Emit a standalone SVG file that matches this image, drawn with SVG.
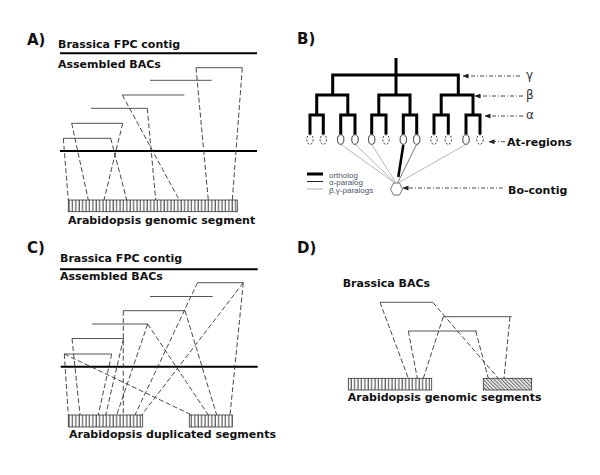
<svg xmlns="http://www.w3.org/2000/svg" width="600" height="475" viewBox="0 0 600 475">
<style>
.pl{font-family:"DejaVu Sans","Liberation Sans",sans-serif;font-weight:bold;font-size:15px;fill:#111}
.lb{font-family:"DejaVu Sans","Liberation Sans",sans-serif;font-weight:bold;font-size:11px;fill:#111}
.gk{font-family:"DejaVu Sans","Liberation Sans",sans-serif;font-size:12px;fill:#333}
.lg{font-family:"Liberation Sans","DejaVu Sans",sans-serif;font-size:8px;fill:#4a5568}
.thick{stroke:#000;stroke-width:2;fill:none}
.bac{stroke:#555;stroke-width:1;fill:none}
.dash{stroke:#333;stroke-width:0.9;stroke-dasharray:5,2.5;fill:none}
.tree{stroke:#000;stroke-width:3;fill:none;stroke-linejoin:miter}
.ov{fill:#fff;stroke:#222;stroke-width:0.9}
.ovd{fill:#fff;stroke:#222;stroke-width:0.9;stroke-dasharray:2,1.5}
.ptr{stroke:#333;stroke-width:0.9;stroke-dasharray:4,2,1,2;fill:none;marker-end:url(#ah)}
.seg{stroke:#333;stroke-width:0.8}
</style>
<defs>
<pattern id="vh" width="3.4" height="20" patternUnits="userSpaceOnUse">
<rect width="3.4" height="20" fill="#fff"/>
<line x1="1" y1="0" x2="1" y2="20" stroke="#222" stroke-width="0.9"/>
</pattern>
<pattern id="dh" width="2.6" height="2.6" patternUnits="userSpaceOnUse" patternTransform="rotate(-45)">
<rect width="2.6" height="2.6" fill="#eee"/>
<line x1="0.6" y1="0" x2="0.6" y2="2.6" stroke="#444" stroke-width="0.8"/>
</pattern>
<marker id="ah" markerWidth="6" markerHeight="5" refX="5.5" refY="2.5" orient="auto" markerUnits="userSpaceOnUse">
<path d="M0,0 L6,2.5 L0,5 Z" fill="#222"/>
</marker>
</defs>
<rect width="600" height="475" fill="#fff"/>

<!-- Panel A -->
<g id="panelA">
<text class="pl" x="27" y="45">A)</text>
<g id="A-contig"><text class="lb" x="58" y="48">Brassica FPC contig</text><line class="thick" x1="60" y1="53.3" x2="257" y2="53.3"/></g>
<g id="A-bacs"><text class="lb" x="58" y="68">Assembled BACs</text>
<line class="bac" x1="196" y1="67.7" x2="242.3" y2="67.7"/>
<line class="bac" x1="150" y1="80.3" x2="211.7" y2="80.3"/>
<line class="bac" x1="122.3" y1="95" x2="184.3" y2="95"/>
<line class="bac" x1="91" y1="108.3" x2="147.3" y2="108.3"/>
<line class="bac" x1="71.7" y1="123.3" x2="122.7" y2="123.3"/>
<line class="bac" x1="63.3" y1="138.3" x2="110.7" y2="138.3"/>
</g>
<g id="A-line"><line class="thick" x1="60" y1="151" x2="257" y2="151"/></g>
<g id="A-segment"><rect class="seg" x="68.3" y="200" width="169" height="11.7" fill="url(#vh)"/>
<text class="lb" x="68" y="224">Arabidopsis genomic segment</text></g>
</g>

<!-- Panel B -->
<g id="panelB">
<text class="pl" x="297" y="44">B)</text>
<g id="B-tree">
<path class="tree" d="M396,58 V95 M332.7,95 V75 H458.3 V95 M316.7,115 V95 H347.8 V115 M378.8,115 V95 H410 V115 M441.2,115 V95 H473 V115 M310,134.5 V115 H323.3 V134.5 M340.7,134.5 V115 H355 V134.5 M371.7,134.5 V115 H386 V134.5 M403.3,134.5 V115 H416.7 V134.5 M434,134.5 V115 H448.3 V134.5 M466,134.5 V115 H480 V134.5"/>
</g>
<g id="At-regions">
<ellipse class="ovd" cx="310" cy="139.5" rx="3.2" ry="4.8"/>
<ellipse class="ovd" cx="323.3" cy="139.5" rx="3.2" ry="4.8"/>
<ellipse class="ov" cx="340.7" cy="139.5" rx="3.2" ry="4.8"/>
<ellipse class="ov" cx="355" cy="139.5" rx="3.2" ry="4.8"/>
<ellipse class="ov" cx="371.7" cy="139.5" rx="3.2" ry="4.8"/>
<ellipse class="ovd" cx="386" cy="139.5" rx="3.2" ry="4.8"/>
<ellipse class="ov" cx="403.3" cy="139.5" rx="3.2" ry="4.8"/>
<ellipse class="ov" cx="416.7" cy="139.5" rx="3.2" ry="4.8"/>
<ellipse class="ovd" cx="434" cy="139.5" rx="3.2" ry="4.8"/>
<ellipse class="ovd" cx="448.3" cy="139.5" rx="3.2" ry="4.8"/>
<ellipse class="ov" cx="466" cy="139.5" rx="3.2" ry="4.8"/>
<ellipse class="ovd" cx="480" cy="139.5" rx="3.2" ry="4.8"/>
</g>
<g id="Bo-contig"><path d="M390.5,189 L393.5,183 L399.5,183 L402.5,189 L399.5,195 L393.5,195 Z" fill="#fff" stroke="#666" stroke-width="0.9"/></g>
<g id="B-legend">
<line x1="307" y1="174" x2="323" y2="174" stroke="#000" stroke-width="3"/>
<line x1="307" y1="181.5" x2="323" y2="181.5" stroke="#222" stroke-width="1"/>
<line x1="307" y1="189" x2="323" y2="189" stroke="#777" stroke-width="0.6"/>
<text class="lg" x="329" y="177.5">ortholog</text>
<text class="lg" x="329" y="185">α-paralog</text>
<text class="lg" x="329" y="193">β,γ-paralogs</text>
</g>
<g id="B-labels">
<text class="gk" x="526" y="79">γ</text>
<text class="gk" x="526" y="99">β</text>
<text class="gk" x="526" y="119">α</text>
<text class="lb" x="507" y="146">At-regions</text>
<text class="lb" x="508" y="194">Bo-contig</text>
</g>
</g>

<!-- Panel C -->
<g id="panelC">
<text class="pl" x="27" y="253">C)</text>
<g id="C-contig"><text class="lb" x="60" y="261.5">Brassica FPC contig</text><line class="thick" x1="60" y1="269.3" x2="257.7" y2="269.3"/></g>
<g id="C-bacs"><text class="lb" x="60" y="280">Assembled BACs</text>
<line class="bac" x1="197.5" y1="282.7" x2="243.3" y2="282.7"/>
<line class="bac" x1="150" y1="296.5" x2="212.7" y2="296.5"/>
<line class="bac" x1="123.3" y1="310.7" x2="185" y2="310.7"/>
<line class="bac" x1="92" y1="324" x2="147.7" y2="324"/>
<line class="bac" x1="72" y1="338.5" x2="123.5" y2="338.5"/>
<line class="bac" x1="64.3" y1="354" x2="111.7" y2="354"/>
</g>
<g id="C-line"><line class="thick" x1="60.7" y1="366.7" x2="257.7" y2="366.7"/></g>
<g id="C-segments"><rect class="seg" x="68.3" y="415" width="74.4" height="12" fill="url(#vh)"/>
<rect class="seg" x="189.3" y="415" width="43" height="12" fill="url(#vh)"/>
<text class="lb" x="69" y="438.3">Arabidopsis duplicated segments</text></g>
</g>

<!-- Panel D -->
<g id="panelD">
<text class="pl" x="297" y="253">D)</text>
<g id="D-bacs"><text class="lb" x="342.7" y="286.7">Brassica BACs</text>
<line class="bac" x1="380" y1="302.3" x2="432.7" y2="302.3"/>
<line class="bac" x1="443.3" y1="316.7" x2="511.7" y2="316.7"/>
<line class="bac" x1="408.3" y1="331" x2="476.7" y2="331"/>
</g>
<g id="D-segments"><rect class="seg" x="348.3" y="378.3" width="83.4" height="11.7" fill="url(#vh)"/>
<rect class="seg" x="483.3" y="378.3" width="48.4" height="11.7" fill="url(#dh)"/>
<text class="lb" x="347.7" y="401">Arabidopsis genomic segments</text></g>
</g>

<g id="connectors">
<!-- A -->
<line class="dash" x1="63.3" y1="138.3" x2="68.3" y2="200"/>
<line class="dash" x1="71.7" y1="123.3" x2="88.3" y2="200"/>
<line class="dash" x1="122.7" y1="123.3" x2="104" y2="200"/>
<line class="dash" x1="110.7" y1="138.3" x2="126.7" y2="200"/>
<line class="dash" x1="147.3" y1="108.3" x2="155.7" y2="200"/>
<line class="dash" x1="122.3" y1="95" x2="179.3" y2="200"/>
<line class="dash" x1="196" y1="67.7" x2="208.3" y2="200"/>
<line class="dash" x1="242.3" y1="67.7" x2="232.3" y2="200"/>
<!-- B -->
<line x1="340.7" y1="144.3" x2="395" y2="183" stroke="#888" stroke-width="0.6"/>
<line x1="355" y1="144.3" x2="395.5" y2="183" stroke="#888" stroke-width="0.6"/>
<line x1="371.7" y1="144.3" x2="396" y2="183" stroke="#888" stroke-width="0.6"/>
<line x1="416.7" y1="144.3" x2="397.5" y2="183" stroke="#555" stroke-width="0.8"/>
<line x1="466" y1="144.3" x2="398" y2="183" stroke="#888" stroke-width="0.6"/>
<line x1="403.3" y1="145" x2="398.3" y2="177" stroke="#000" stroke-width="2.5"/>
<line class="ptr" x1="520" y1="76" x2="463" y2="76"/>
<line class="ptr" x1="523" y1="96" x2="475" y2="96"/>
<line class="ptr" x1="523" y1="116" x2="485" y2="116"/>
<line class="ptr" x1="505" y1="141.7" x2="489" y2="141.7"/>
<line class="ptr" x1="503" y1="188" x2="403" y2="188"/>
<!-- C -->
<line class="dash" x1="64.3" y1="354" x2="68.3" y2="415"/>
<line class="dash" x1="64.3" y1="354" x2="191.7" y2="415"/>
<line class="dash" x1="72" y1="338.5" x2="80" y2="415"/>
<line class="dash" x1="111.7" y1="354" x2="98.3" y2="415"/>
<line class="dash" x1="123.5" y1="338.5" x2="105.7" y2="415"/>
<line class="dash" x1="123.3" y1="310.7" x2="123.3" y2="415"/>
<line class="dash" x1="147.7" y1="324" x2="116.7" y2="415"/>
<line class="dash" x1="147.7" y1="324" x2="208.3" y2="415"/>
<line class="dash" x1="185" y1="310.7" x2="216.7" y2="415"/>
<line class="dash" x1="197.5" y1="282.7" x2="135" y2="415"/>
<line class="dash" x1="243.3" y1="282.7" x2="141.7" y2="415"/>
<line class="dash" x1="243.3" y1="282.7" x2="230" y2="415"/>
<!-- D -->
<line class="dash" x1="380" y1="302.3" x2="408.3" y2="378.3"/>
<line class="dash" x1="432.7" y1="302.3" x2="498.3" y2="378.3"/>
<line class="dash" x1="443.3" y1="316.7" x2="423.3" y2="378.3"/>
<line class="dash" x1="510" y1="316.7" x2="504" y2="378.3"/>
<line class="dash" x1="408.3" y1="331" x2="417.3" y2="378.3"/>
<line class="dash" x1="475.7" y1="331" x2="488.3" y2="378.3"/>
</g>
</svg>
